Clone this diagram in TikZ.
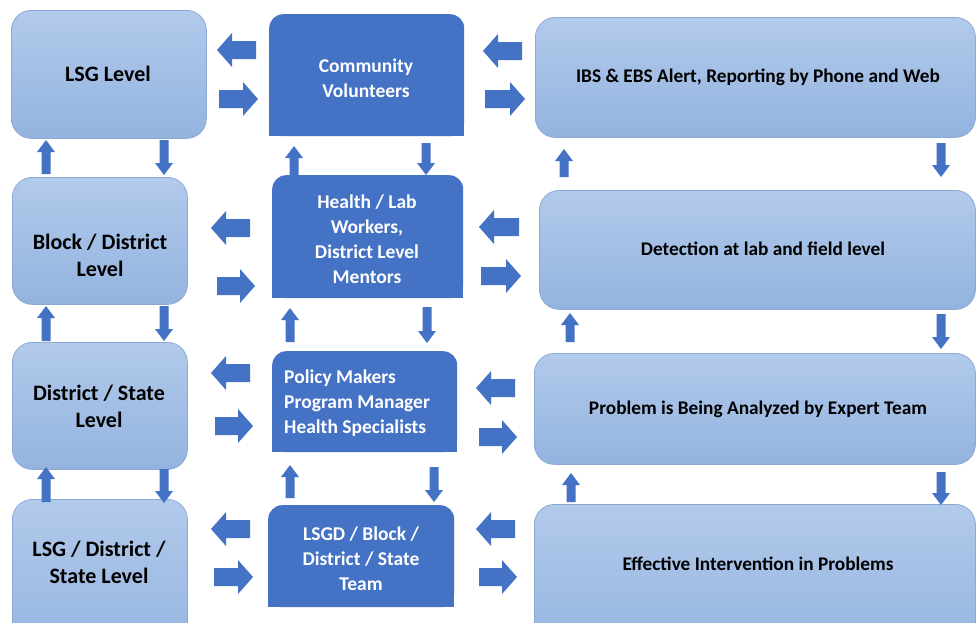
\documentclass[tikz,border=0pt]{standalone}
\usepackage{fontspec}
\setmainfont{Carlito}
\definecolor{dkblue}{HTML}{4472C4}
\definecolor{lttop}{HTML}{B2CAEB}
\definecolor{ltbot}{HTML}{93B3DF}
\definecolor{ltedge}{HTML}{8CA9D6}
% block arrows: {y}{tail x}{head base x}{tip x} and {x}{tail y}{head base y}{tip y}
\newcommand{\harrow}[4]{\fill[dkblue] (#2,#1-9) -- (#3,#1-9) -- (#3,#1-17) -- (#4,#1) -- (#3,#1+17) -- (#3,#1+9) -- (#2,#1+9) -- cycle;}
\newcommand{\varrow}[4]{\fill[dkblue] (#1-4.5,#2) -- (#1-4.5,#3) -- (#1-9,#3) -- (#1,#4) -- (#1+9,#3) -- (#1+4.5,#3) -- (#1+4.5,#2) -- cycle;}
\begin{document}
\begin{tikzpicture}[x=1pt,y=-1pt,
  lightbox/.style={draw=ltedge, line width=0.8pt, rounded corners=20pt,
    top color=lttop, bottom color=ltbot, anchor=north west, inner sep=0pt},
  darkbox/.style={fill=dkblue, rounded corners=14pt, anchor=north west, inner sep=0pt},
  lefttxt/.style={font=\fontsize{22}{27}\selectfont\bfseries, align=center, text=black},
  midtxt/.style={font=\fontsize{19.5}{25}\selectfont\bfseries, align=center, text=white},
  righttxt/.style={font=\fontsize{19.3}{24}\selectfont\bfseries, align=center, text=black}]
\useasboundingbox (0,0) rectangle (976,622);
\fill[white] (0,0) rectangle (976,622);

% left column
\node[lightbox, minimum width=195, minimum height=128] (lsg) at (11,10) {};
\node[lightbox, minimum width=175, minimum height=127] (blk) at (12,177) {};
\node[lightbox, minimum width=175, minimum height=127] (dst) at (12,342) {};
\node[lightbox, minimum width=175, minimum height=161] (lds) at (12,499) {};

% middle column
\node[darkbox, minimum width=195, minimum height=122] (cv) at (269,14) {};
\node[darkbox, minimum width=191, minimum height=123] (hl) at (272,175) {};
\node[darkbox, minimum width=185, minimum height=101] (pm) at (272,351) {};
\node[darkbox, minimum width=186, minimum height=102] (lt) at (268,505) {};
\foreach \b in {cv,hl,pm,lt} \fill[dkblue] (\b.west) rectangle (\b.south east);

% right column
\node[lightbox, minimum width=440, minimum height=120] (ibs) at (535,17) {};
\node[lightbox, minimum width=436, minimum height=119] (det) at (539,190) {};
\node[lightbox, minimum width=441, minimum height=111] (prb) at (534,353) {};
\node[lightbox, minimum width=441, minimum height=156] (eff) at (534,504) {};

% labels
\node[lefttxt] (lsg-t) at (108,74) {LSG Level};
\node[lefttxt] (blk-t) at (100,255) {Block / District\\Level};
\node[lefttxt] (dst-t) at (99,406) {District / State\\Level};
\node[lefttxt] (lds-t) at (99,562) {LSG / District /\\State Level};

\node[midtxt] (cv-t) at (366,78) {Community\\Volunteers};
\node[midtxt] (hl-t) at (367,239) {Health / Lab\\Workers,\\District Level\\Mentors};
\node[midtxt, align=left, anchor=west, inner sep=0pt] (pm-t) at (284,403) {Policy Makers\\Program Manager\\Health Specialists};
\node[midtxt] (lt-t) at (361,559) {LSGD / Block /\\District / State\\Team};

\node[righttxt] (ibs-t) at (758,77) {IBS \& EBS Alert, Reporting by Phone and Web};
\node[righttxt] (det-t) at (763,249) {Detection at lab and field level};
\node[righttxt] (prb-t) at (758,409) {Problem is Being Analyzed by Expert Team};
\node[righttxt] (eff-t) at (758,564) {Effective Intervention in Problems};

% horizontal arrows, left pair of columns
\harrow{50}{256}{232}{217}
\harrow{99}{219}{243}{258}
\harrow{228}{250}{226}{211}
\harrow{286}{217}{240}{255}
\harrow{373}{250}{226}{211}
\harrow{426}{215}{238}{253}
\harrow{529}{250}{226}{211}
\harrow{577}{214}{238}{253}
% horizontal arrows, right pair of columns
\harrow{51}{522}{498}{483}
\harrow{99}{485}{510}{525}
\harrow{227}{519}{494}{479}
\harrow{276}{481}{506}{521}
\harrow{388}{515}{491}{476}
\harrow{437}{479}{502}{517}
\harrow{529}{515}{491}{476}
\harrow{577}{479}{502}{517}

% vertical arrows
\varrow{46}{174}{152}{140}
\varrow{164}{140}{163}{175}
\varrow{46}{341}{318}{306}
\varrow{164}{306}{329}{341}
\varrow{46}{502}{479}{467}
\varrow{164}{469}{491}{503}
\varrow{294}{175}{158}{146}
\varrow{426}{143}{163}{175}
\varrow{290}{342}{320}{308}
\varrow{427}{307}{331}{343}
\varrow{290}{498}{477}{465}
\varrow{434}{467}{490}{502}
\varrow{564}{177}{161}{149}
\varrow{941}{143}{165}{177}
\varrow{570}{342}{325}{313}
\varrow{941}{314}{337}{349}
\varrow{571}{502}{485}{473}
\varrow{941}{472}{493}{505}
\end{tikzpicture}
\end{document}
